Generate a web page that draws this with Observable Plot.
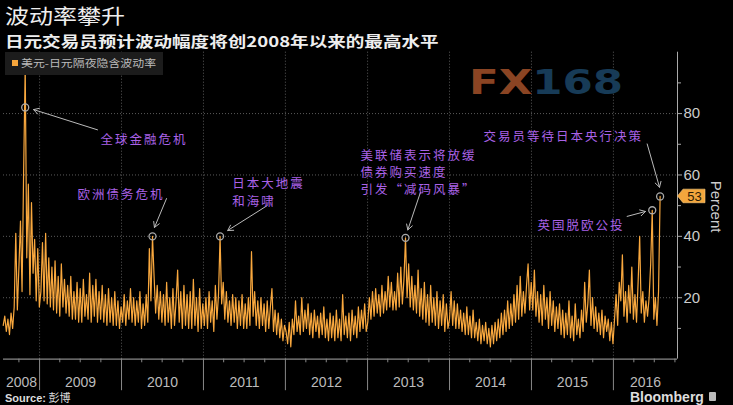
<!DOCTYPE html>
<html><head><meta charset="utf-8">
<script src="https://cdn.jsdelivr.net/npm/d3@7"></script>
<script src="https://cdn.jsdelivr.net/npm/@observablehq/plot@0.6"></script>
<style>
html,body{margin:0;padding:0;background:#000;}
#wrap{position:relative;width:733px;height:405px;overflow:hidden;background:#000;font-family:"Noto Sans CJK SC","Noto Sans",sans-serif;}
#head{position:relative;height:48px;}
.title{position:absolute;left:5px;top:3.5px;font-size:20px;line-height:24px;color:#eee;transform:scaleX(1.2);transform-origin:0 0;white-space:nowrap;}
.sub{position:absolute;left:5px;top:31.5px;font-size:14.5px;line-height:18px;font-weight:700;color:#eee;transform:scaleX(1.28);transform-origin:0 0;white-space:nowrap;}
#chart svg{display:block;}
.legend{position:absolute;left:5px;top:52px;width:158px;height:23px;background:#1c1c1c;}
.legend .sw{position:absolute;left:7px;top:8px;width:6px;height:6px;background:#f7a63c;}
.legend .lt{position:absolute;left:16px;top:4px;font-size:10px;line-height:14px;color:#bbb;transform:scaleX(1.19);transform-origin:0 0;white-space:nowrap;}
.wm{position:absolute;left:469px;top:62px;font-family:"DejaVu Sans",sans-serif;font-weight:700;font-size:34px;line-height:40px;transform:scaleX(1.28);transform-origin:0 0;white-space:nowrap;letter-spacing:0px;}
.wm .fx{color:#8a4423;} .wm .n{color:#173b57;}
.src{position:absolute;left:5px;top:390px;font-size:11px;line-height:14px;color:#ddd;white-space:nowrap;}
.src b{font-family:"Liberation Sans",sans-serif;}
.bb{position:absolute;left:630px;top:390px;font-family:"Liberation Sans",sans-serif;font-weight:700;font-size:14px;line-height:15px;color:#ddd;white-space:nowrap;}
.logo{position:absolute;left:709px;top:392px;width:7px;height:9px;background:#bbb;border-radius:1px;}
</style>
</head><body>
<div id="wrap">
  <div id="head">
    <div class="title">波动率攀升</div>
    <div class="sub">日元交易员预计波动幅度将创2008年以来的最高水平</div>
  </div>
  <div id="chart"></div>
  <div class="legend"><div class="sw"></div><div class="lt">美元-日元隔夜隐含波动率</div></div>
  <div class="wm"><span class="fx">FX</span><span class="n">168</span></div>
  <div class="src"><b>Source:</b> 彭博</div>
  <div class="bb">Bloomberg</div>
  <div class="logo"></div>
</div>
<script>
// Weekly readings (Wednesdays) of USD-JPY overnight implied volatility, percent
const v2008 = [11, 14, 9, 13, 8, 15, 10, 17, 41, 16, 30, 45, 22, 61, 95, 33, 57, 21, 51, 28, 39, 19, 36, 17];
const v2009 = [22, 38, 19, 41, 18, 33, 17, 30, 16, 32, 15, 27, 14, 31, 17, 26, 15, 24, 14, 27, 13, 22, 13, 25, 12,
               23, 12, 26, 14, 21, 13, 28, 12, 24, 14, 26, 12, 22, 13, 24, 12, 21, 11, 23, 12, 20, 11, 22, 11, 19, 10, 17];
const v2010 = [12, 21, 11, 19, 13, 23, 12, 20, 11, 19, 12, 22, 10, 18, 11, 21, 12, 36, 19, 40, 27, 15, 24, 13, 22, 12,
               21, 11, 25, 12, 20, 10, 23, 11, 19, 29, 12, 22, 10, 24, 11, 21, 10, 22, 10, 26, 11, 20, 9, 23, 10, 18];
const v2011 = [11, 20, 10, 22, 12, 19, 9, 24, 13, 21, 40, 18, 25, 13, 22, 12, 19, 11, 21, 12, 20, 10, 19, 11, 21, 10,
               18, 10, 20, 11, 35, 14, 22, 11, 19, 10, 20, 11, 18, 9, 19, 10, 17, 23, 9, 16, 8, 15, 7, 13, 6, 11];
const v2012 = [9, 5, 12, 4, 13, 8, 19, 9, 14, 8, 20, 9, 16, 10, 18, 8, 15, 7, 16, 9, 14, 7, 15, 8, 17, 7,
               13, 6, 15, 7, 14, 6, 16, 7, 13, 6, 21, 8, 14, 7, 15, 6, 16, 8, 14, 7, 17, 9, 16, 10, 18, 9];
const v2013 = [12, 20, 13, 22, 14, 23, 15, 21, 14, 24, 15, 22, 16, 27, 17, 25, 16, 22, 16, 28, 17, 30, 18, 26, 39.5, 20,
               31, 17, 27, 16, 24, 15, 29, 14, 23, 13, 25, 12, 21, 11, 24, 12, 20, 11, 22, 10, 19, 11, 21, 9, 18, 10];
const v2014 = [13, 22, 11, 19, 10, 18, 10, 16, 9, 15, 8, 17, 8, 14, 7, 16, 7, 12, 6, 13, 5, 11, 6, 12, 5, 10, 4,
               11, 5, 12, 6, 13, 7, 15, 8, 16, 9, 19, 10, 18, 11, 21, 12, 24, 13, 27, 14, 22, 15, 24, 31, 16, 25];
const v2015 = [16, 29, 14, 22, 12, 21, 11, 24, 13, 20, 10, 22, 11, 19, 9, 17, 10, 18, 8, 16, 7, 15, 8, 19, 7, 14,
               6, 18, 8, 13, 7, 16, 9, 25, 12, 18, 29, 11, 20, 10, 17, 9, 15, 8, 16, 7, 14, 9, 13, 6, 12, 5];
const v2016 = [13, 21, 11, 25, 19, 34, 14, 22, 12, 24, 15, 30, 13, 21, 12, 25, 40, 15, 22, 12, 19, 14, 20, 31, 48.5, 13,
               20, 11, 22, 53];
const yearSeries = [[2008, v2008], [2009, v2009], [2010, v2010], [2011, v2011], [2012, v2012],
                    [2013, v2013], [2014, v2014], [2015, v2015], [2016, v2016]];

// Annotated events
const eventLabels = ["全球金融危机", "欧洲债务危机", "日本大地震\n和海啸", "美联储表示将放缓\n债券购买速度\n引发“减码风暴”", "英国脱欧公投", "交易员等待日本央行决策"];
const eventDates = ["2008-10-29", "2010-05-19", "2011-03-16", "2013-06-19", "2016-06-22", "2016-07-27"];
const eventValues = [82, 40, 40, 39.5, 48.5, 53];
// label anchors and arrow ends (fractional year, percent)
const labelYear = [2009.744, 2009.463, 2011.35, 2012.915, 2015.073, 2014.415];
const labelTop = [74.0, 56.2, 59.6, 69.0, 46.1, 75.1];
const arrowFromYear = [2009.707, 2010.549, 2011.777, 2013.646, 2016.167, 2016.411];
const arrowFromVal = [74.7, 52.3, 50.0, 54.4, 46.5, 70.1];
const arrowToYear = [2008.927, 2010.402, 2011.296, 2013.491, 2016.390, 2016.561];
const arrowToVal = [81.3, 42.9, 41.9, 42.1, 48.1, 56.0];

const years = [2008, 2009, 2010, 2011, 2012, 2013, 2014, 2015, 2016];
const yTicks = [20, 40, 60, 80];
const yMinor = [10, 30, 50, 70, 90];
const lastValue = 53;

const fy = f => { const y = Math.floor(f); const a = Date.UTC(y, 0, 1), b = Date.UTC(y + 1, 0, 1); return new Date(a + (f - y) * (b - a)); };

const data = [];
for (const [yr, vals] of yearSeries) {
  const start = yr === 2008 ? new Date(Date.UTC(2008, 6, 23)) : d3.utcWednesday.ceil(new Date(Date.UTC(yr, 0, 1)));
  vals.forEach((v, i) => data.push({date: d3.utcDay.offset(start, 7 * i), value: v}));
}

const xDomain = [fy(2008.561), fy(2016.780)];
const yearStarts = years.slice(1).map(y => new Date(Date.UTC(y, 0, 1)));
const quarterTicks = d3.utcMonth.every(3).range(xDomain[0], xDomain[1]).filter(d => d.getUTCMonth() !== 0);
const yearLabelDates = years.map(y => {
  const a = Math.max(Date.UTC(y, 0, 1), +xDomain[0]), b = Math.min(Date.UTC(y + 1, 0, 1), +xDomain[1]);
  return new Date((a + b) / 2);
});
const idx = d3.range(eventLabels.length);
const PURPLE = "#a962e6";

const badge = (index, scales, values, dimensions) => {
  const y = scales.y(lastValue);
  const x0 = dimensions.width - dimensions.marginRight;
  const g = d3.create("svg:g");
  g.append("path")
    .attr("d", `M${x0 + 0.5},${y} L${x0 + 6},${y - 6.8} H${x0 + 28} V${y + 6.8} H${x0 + 6} Z`)
    .attr("fill", "#f3a63d").attr("stroke", "#ffcf80").attr("stroke-width", 0.6);
  g.append("text").attr("x", x0 + 17.5).attr("y", y).attr("dy", "0.36em")
    .attr("text-anchor", "middle").attr("fill", "#2a1a05")
    .attr("font-family", "Liberation Sans, sans-serif").attr("font-size", 13).text(lastValue);
  return g.node();
};

const chart = Plot.plot({
  width: 733, height: 344,
  marginLeft: 3, marginRight: 56, marginTop: 3.7, marginBottom: 33.4,
  style: {background: "transparent", color: "#ccc", fontFamily: "Liberation Sans, Arial, sans-serif", overflow: "visible"},
  x: {type: "utc", domain: xDomain, axis: null},
  y: {domain: [0, 100], axis: null},
  marks: [
    Plot.gridY(yTicks, {stroke: "#5a5a5a", strokeOpacity: 1, strokeDasharray: "1,2"}),
    Plot.gridX(yearStarts, {stroke: "#5a5a5a", strokeOpacity: 1, strokeDasharray: "1,2"}),
    Plot.line(data, {x: "date", y: "value", stroke: "#f9a83e", strokeWidth: 1.2}),
    Plot.ruleY([0], {stroke: "#aaa"}),
    Plot.ruleX([xDomain[1]], {y1: 0, y2: 100, stroke: "#aaa"}),
    Plot.ruleX(yearStarts, {y1: 0, y2: -10.3, stroke: "#888"}),
    Plot.ruleX(quarterTicks, {y1: 0, y2: -1.2, stroke: "#888"}),
    Plot.text(years, {x: (d, i) => yearLabelDates[i], y: -7.6, text: d => String(d), fill: "#bbb",
      fontSize: 14, fontFamily: "'Liberation Sans Narrow', 'Liberation Sans', sans-serif"}),
    Plot.axisY(yTicks, {anchor: "right", label: null, tickSize: 4, tickPadding: 2, fontSize: 15, stroke: "#aaa", fill: "#ccc"}),
    Plot.axisY(yMinor, {anchor: "right", label: null, tickSize: 3, stroke: "#aaa", tickFormat: () => ""}),
    Plot.text(["Percent"], {x: [xDomain[1]], y: [49.7], text: d => d, rotate: 90, dx: 38, fontSize: 15, fill: "#ccc"}),
    Plot.dot(idx, {x: i => new Date(eventDates[i]), y: i => eventValues[i], r: 3.5, stroke: "#aaa", strokeWidth: 1.3, fill: "none"}),
    Plot.arrow(idx, {x1: i => fy(arrowFromYear[i]), y1: i => arrowFromVal[i], x2: i => fy(arrowToYear[i]), y2: i => arrowToVal[i],
      stroke: "#bbb", strokeWidth: 1, headLength: 9}),
    Plot.text(idx, {x: i => fy(labelYear[i]), y: i => labelTop[i], text: i => eventLabels[i], textAnchor: "start",
      lineAnchor: "top", lineHeight: 1.38, fontSize: 12.5, fill: PURPLE, fontFamily: "Noto Sans CJK SC"}),
    badge
  ]
});
chart.querySelectorAll(`g[fill="${PURPLE}"] text`).forEach(t => t.setAttribute("letter-spacing", "2"));
document.getElementById("chart").appendChild(chart);
</script>
</body></html>
